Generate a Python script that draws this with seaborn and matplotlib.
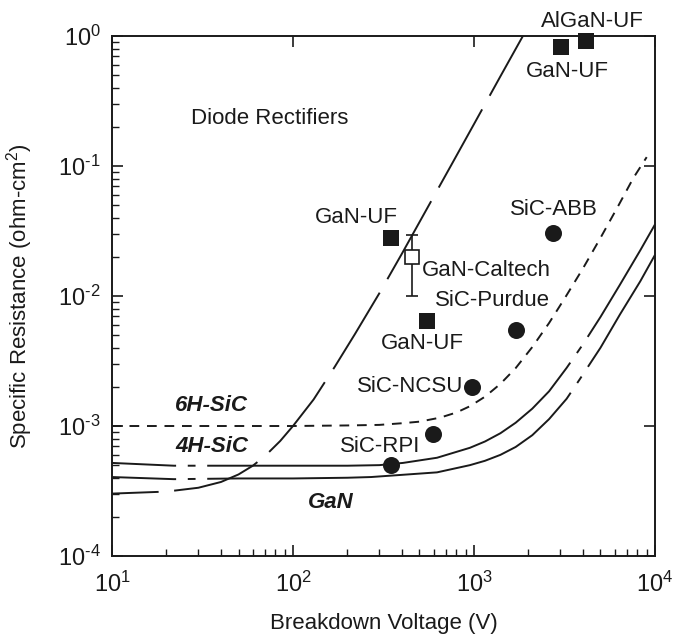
import numpy as np
import pandas as pd
import matplotlib
matplotlib.use('Agg')
import matplotlib.pyplot as plt
from matplotlib.ticker import LogLocator, NullFormatter, FuncFormatter
import seaborn as sns

# ==========================================
# DATA
# breakdown voltage in V, specific resistance in ohm-cm2
# ==========================================
# steep long-dashed curve
steep_v = [10, 20, 30, 40, 50, 60, 70, 85, 100, 130, 170, 220, 300, 400, 550, 750, 1000, 1400, 1900]
steep_r = [3.02e-4, 3.13e-4, 3.35e-4, 3.71e-4, 4.24e-4, 4.95e-4, 5.87e-4, 7.67e-4, 1.0e-3, 1.6e-3,
           2.85e-3, 5.1e-3, 1.05e-2, 2.12e-2, 4.7e-2, 0.102, 0.21, 0.49, 1.05]

# 6H-SiC (short dashes)
h6_v = [10, 100, 200, 300, 400, 500, 650, 800, 950, 1150, 1400, 1700, 2100, 2600, 3200, 4000,
        5000, 6300, 7600, 9000]
h6_r = [1.0e-3, 1.0e-3, 1.01e-3, 1.02e-3, 1.05e-3, 1.08e-3, 1.16e-3, 1.27e-3, 1.42e-3, 1.68e-3,
        2.11e-3, 2.79e-3, 4.05e-3, 6.2e-3, 9.8e-3, 1.63e-2, 2.8e-2, 5.0e-2, 8.1e-2, 0.117]

# 4H-SiC
h4_v = [10, 22, 50, 100, 200, 300, 405, 625, 950, 1150, 1400, 1700, 2100, 2600, 3250, 4000,
        5000, 6400, 8300, 10000]
h4_r = [5.2e-4, 4.95e-4, 4.95e-4, 4.95e-4, 4.95e-4, 5.0e-4, 5.2e-4, 5.7e-4, 6.8e-4, 7.6e-4,
        8.8e-4, 1.06e-3, 1.36e-3, 1.85e-3, 2.8e-3, 4.25e-3, 6.9e-3, 1.22e-2, 2.25e-2, 3.55e-2]

# GaN
gan_v = [10, 22, 50, 100, 200, 270, 625, 950, 1150, 1400, 1700, 2100, 2600, 3250, 3850, 5000,
         6400, 8300, 10000]
gan_r = [4.05e-4, 3.9e-4, 3.95e-4, 3.95e-4, 4.0e-4, 4.05e-4, 4.4e-4, 5.0e-4, 5.4e-4, 6.0e-4,
         6.9e-4, 8.5e-4, 1.13e-3, 1.62e-3, 2.3e-3, 4.0e-3, 7.2e-3, 1.3e-2, 2.07e-2]

# measured devices
sic_dev_v = [2730, 1706, 975, 593, 348]            # ABB, Purdue, NCSU, RPI, RPI
sic_dev_r = [0.0305, 5.47e-3, 2.0e-3, 8.68e-4, 5.0e-4]
gan_dev_v = [3030, 4160, 348, 550]                 # GaN-UF, AlGaN-UF, GaN-UF, GaN-UF
gan_dev_r = [0.823, 0.915, 0.0279, 6.42e-3]
caltech_v = 454
caltech_r = 0.020
caltech_lo = 0.010
caltech_hi = 0.0295

# ==========================================
# STYLE
# ==========================================
sns.set_style('ticks')
plt.rcParams['font.family'] = ['Liberation Sans', 'DejaVu Sans']
plt.rcParams['mathtext.fontset'] = 'custom'
plt.rcParams['mathtext.rm'] = 'Liberation Sans'
plt.rcParams['mathtext.it'] = 'Liberation Sans:italic'
plt.rcParams['mathtext.bf'] = 'Liberation Sans:bold'
INK = '#1a1a1a'
FS = 16

fig = plt.figure(figsize=(6.8, 6.35), dpi=100)
ax = fig.add_axes([0.1647, 0.1244, 0.7985, 0.8189])

LW = 1.4
sns.lineplot(x=steep_v, y=steep_r, ax=ax, color=INK, lw=LW, estimator=None,
             linestyle=(22, (46, 8)))
sns.lineplot(x=h6_v, y=h6_r, ax=ax, color=INK, lw=LW, estimator=None,
             linestyle=(0, (5, 4)))
sns.lineplot(x=h4_v, y=h4_r, ax=ax, color=INK, lw=LW, estimator=None,
             linestyle=(172, (205, 6, 4, 6)))
sns.lineplot(x=gan_v, y=gan_r, ax=ax, color=INK, lw=LW, estimator=None,
             linestyle=(168, (201, 6, 4, 6)))

sns.scatterplot(x=sic_dev_v, y=sic_dev_r, ax=ax, color=INK, marker='o', s=150,
                linewidth=0, clip_on=False, zorder=5)
sns.scatterplot(x=gan_dev_v, y=gan_dev_r, ax=ax, color=INK, marker='s', s=135,
                linewidth=0, clip_on=False, zorder=5)
ax.errorbar([caltech_v], [caltech_r],
            yerr=[[caltech_r - caltech_lo], [caltech_hi - caltech_r]],
            fmt='s', ms=9.5, mfc='white', mec=INK, mew=1.2, ecolor=INK,
            elinewidth=1.2, capsize=4, capthick=1.2, zorder=6)

ax.set_xscale('log')
ax.set_yscale('log')
ax.set_xlim(10, 1e4)
ax.set_ylim(1e-4, 1)


def decade(v, pos):
    e = int(round(np.log10(v)))
    if e < 0:
        return r'$\mathdefault{10^{\text{-}%d}}$' % (-e)
    return r'$\mathdefault{10^{%d}}$' % e


for axis in (ax.xaxis, ax.yaxis):
    axis.set_major_locator(LogLocator(base=10))
    axis.set_minor_locator(LogLocator(base=10, subs=np.arange(2, 10)))
    axis.set_major_formatter(FuncFormatter(decade))
    axis.set_minor_formatter(NullFormatter())

for side in ax.spines.values():
    side.set_linewidth(1.4)
    side.set_color(INK)
ax.tick_params(which='major', direction='in', length=8, width=1.2, top=True, right=True,
               labelsize=FS + 1, colors=INK)
ax.tick_params(axis='x', which='major', pad=11)
ax.tick_params(axis='y', which='major', pad=8)
ax.tick_params(which='minor', direction='in', length=5, width=1.0, top=False, right=False,
               colors=INK)

ax.set_xlabel('Breakdown Voltage (V)', fontsize=FS, color=INK)
ax.set_ylabel('Specific Resistance (ohm-cm$^2$)', fontsize=FS, color=INK)
ax.xaxis.set_label_coords(0.5, -0.11)
ax.yaxis.set_label_coords(-0.142, 0.5)

# annotations
txt = dict(fontsize=FS, color=INK, va='center')
ax.text(4490, 1.30, 'AlGaN-UF', ha='center', clip_on=False, **txt)
ax.text(3270, 0.53, 'GaN-UF', ha='center', **txt)
ax.text(74.6, 0.234, 'Diode Rectifiers', ha='center', **txt)
ax.text(223, 0.0405, 'GaN-UF', ha='center', **txt)
ax.text(2770, 0.0459, 'SiC-ABB', ha='center', **txt)
ax.text(516, 0.0158, 'GaN-Caltech', ha='left', **txt)
ax.text(609, 9.3e-3, 'SiC-Purdue', ha='left', **txt)
ax.text(516, 4.35e-3, 'GaN-UF', ha='center', **txt)
ax.text(869, 2.03e-3, 'SiC-NCSU', ha='right', **txt)
ax.text(503, 6.9e-4, 'SiC-RPI', ha='right', **txt)
bold = dict(fontsize=FS, color=INK, va='center', fontweight='bold', fontstyle='italic')
ax.text(35.6, 1.45e-3, '6H-SiC', ha='center', **bold)
ax.text(35.6, 7.0e-4, '4H-SiC', ha='center', **bold)
ax.text(121, 2.56e-4, 'GaN', ha='left', **bold)

plt.savefig('out.png', dpi=100)
